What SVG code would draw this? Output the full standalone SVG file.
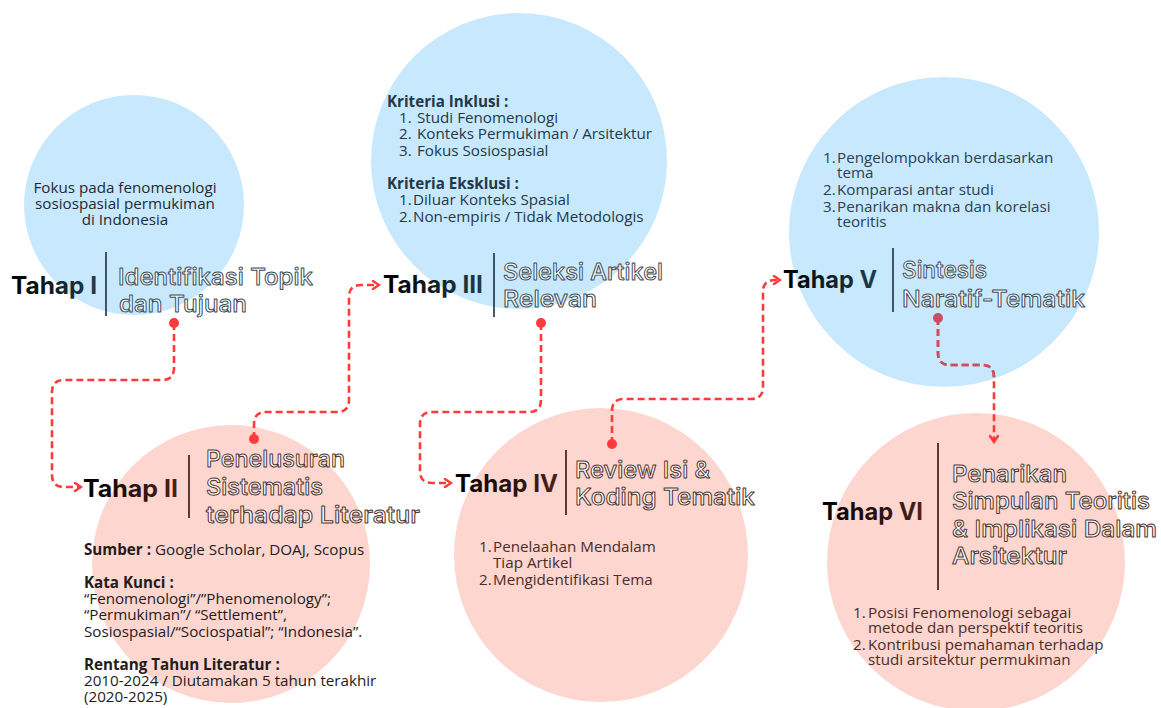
<svg xmlns="http://www.w3.org/2000/svg" width="1161" height="708" viewBox="0 0 1161 708">
<defs>
<style>
.blue{fill:#c8e9fd}
.pink{fill:#fdd6cf}
.lbl{font-family:Inter,"Liberation Sans",sans-serif;font-weight:700;font-size:24px}
.ttl{font-family:"Inter","Liberation Sans",sans-serif;font-weight:500;font-size:23px;fill:#fff;stroke-width:0.95px;stroke-linejoin:round}
.tb{stroke:#3d4c57}
.tp{stroke:#4d3530}
.body{font-family:"Open Sans","Noto Sans",sans-serif;font-size:15.2px}
.bold{font-weight:700}
.conn{fill:none;stroke:#ff3a3a;stroke-width:2.6;stroke-dasharray:7 4}
.dot{fill:#ff3a3a}
.sep{stroke-width:1.8}
</style>
<linearGradient id="gb" x1="0" y1="0" x2="1" y2="0"><stop offset="0" stop-color="#000"/><stop offset="1" stop-color="#1f3c4e"/></linearGradient>
<linearGradient id="gp" x1="0" y1="0" x2="1" y2="0"><stop offset="0" stop-color="#000"/><stop offset="1" stop-color="#4a2219"/></linearGradient>
<marker id="arr" viewBox="0 0 10 10" refX="8" refY="5" markerWidth="10" markerHeight="10" markerUnits="userSpaceOnUse" orient="auto"><path d="M2,1 L8,5 L2,9" fill="none" stroke="#ff3a3a" stroke-width="2.4" stroke-linecap="round"/></marker>
<clipPath id="c5"><circle cx="944" cy="232" r="155"/></clipPath>
</defs>
<rect width="1161" height="708" fill="#fff"/>

<g id="circles">
<circle class="blue" cx="134" cy="205" r="110"/>
<circle class="blue" cx="519" cy="161" r="148"/>
<circle class="blue" cx="944" cy="232" r="155"/>
<circle class="pink" cx="231" cy="564" r="139"/>
<circle class="pink" cx="601" cy="555" r="147"/>
<circle class="pink" cx="976" cy="562" r="149"/>
</g>

<g id="connectors">
<path class="conn" d="M174,323 V368 Q174,380 162,380 H64 Q52,380 52,392 V475 Q52,487 64,487 H81" marker-end="url(#arr)"/>
<circle class="dot" cx="174" cy="323" r="5"/>
<path class="conn" d="M254,439 V424 Q254,412 266,412 H337 Q349,412 349,400 V297 Q349,285 361,285 H379" marker-end="url(#arr)"/>
<circle class="dot" cx="254" cy="439" r="5"/>
<path class="conn" d="M541,323 V400 Q541,412 529,412 H432 Q420,412 420,424 V471 Q420,483 432,483 H451" marker-end="url(#arr)"/>
<circle class="dot" cx="541" cy="323" r="5"/>
<path class="conn" d="M612,444 V411 Q612,399 624,399 H751 Q763,399 763,387 V292 Q763,280 775,280 H780" marker-end="url(#arr)"/>
<circle class="dot" cx="612" cy="444" r="5"/>
<path class="conn" d="M938,318 V353 Q938,365 950,365 H982 Q994,365 994,377 V442" marker-end="url(#arr)"/>
<g clip-path="url(#c5)">
<path class="conn" style="stroke:#cc4e62" d="M938,318 V353 Q938,365 950,365 H982 Q994,365 994,377 V442"/>
</g>
<circle class="dot" style="fill:#cc4e62" cx="938" cy="318" r="5"/>
</g>

<g id="tahap1">
<text class="body" fill="#1e2a33" text-anchor="middle"><tspan x="125" y="193">Fokus pada fenomenologi</tspan><tspan x="125" y="209">sosiospasial permukiman</tspan><tspan x="125" y="225">di Indonesia</tspan></text>
<text class="lbl" x="11" y="294" fill="url(#gb)" textLength="86" lengthAdjust="spacingAndGlyphs">Tahap I</text>
<line class="sep" x1="106" y1="252" x2="106" y2="316" stroke="#2e4756"/>
<text class="ttl tb"><tspan x="118" y="285" textLength="195" lengthAdjust="spacingAndGlyphs">Identifikasi Topik</tspan><tspan x="119" y="312" textLength="128" lengthAdjust="spacingAndGlyphs">dan Tujuan</tspan></text>
</g>

<g id="tahap2">
<text class="lbl" x="83" y="497" fill="url(#gp)" textLength="95" lengthAdjust="spacingAndGlyphs">Tahap II</text>
<line class="sep" x1="189" y1="455" x2="189" y2="518" stroke="#4a2a22"/>
<text class="ttl tp"><tspan x="206" y="467" textLength="139" lengthAdjust="spacingAndGlyphs">Penelusuran</tspan><tspan x="206" y="495" textLength="117" lengthAdjust="spacingAndGlyphs">Sistematis</tspan><tspan x="206" y="523" textLength="214" lengthAdjust="spacingAndGlyphs">terhadap Literatur</tspan></text>
<text class="body" fill="#231c1a"><tspan x="84" y="555" class="bold">Sumber :</tspan><tspan> Google Scholar, DOAJ, Scopus</tspan><tspan x="84" y="588" class="bold">Kata Kunci :</tspan><tspan x="84" y="604">“Fenomenologi”/”Phenomenology”;</tspan><tspan x="84" y="620">“Permukiman”/ “Settlement”,</tspan><tspan x="84" y="637">Sosiospasial/“Sociospatial”; “Indonesia”.</tspan><tspan x="84" y="670" class="bold">Rentang Tahun Literatur :</tspan><tspan x="84" y="686">2010-2024 / Diutamakan 5 tahun terakhir</tspan><tspan x="84" y="702">(2020-2025)</tspan></text>
</g>

<g id="tahap3">
<text class="body" fill="#22384a"><tspan x="387" y="107" class="bold">Kriteria Inklusi :</tspan><tspan x="399" y="123">1.</tspan><tspan x="417">Studi Fenomenologi</tspan><tspan x="399" y="139">2.</tspan><tspan x="417">Konteks Permukiman / Arsitektur</tspan><tspan x="399" y="156">3.</tspan><tspan x="417">Fokus Sosiospasial</tspan><tspan x="387" y="189" class="bold">Kriteria Eksklusi :</tspan><tspan x="399" y="205">1.</tspan><tspan x="413">Diluar Konteks Spasial</tspan><tspan x="399" y="222">2.</tspan><tspan x="413">Non-empiris / Tidak Metodologis</tspan></text>
<text class="lbl" x="383" y="293" fill="url(#gb)" textLength="100" lengthAdjust="spacingAndGlyphs">Tahap III</text>
<line class="sep" x1="494" y1="253" x2="494" y2="317" stroke="#2e4756"/>
<text class="ttl tb"><tspan x="503" y="280" textLength="160" lengthAdjust="spacingAndGlyphs">Seleksi Artikel</tspan><tspan x="503" y="307" textLength="94" lengthAdjust="spacingAndGlyphs">Relevan</tspan></text>
</g>

<g id="tahap4">
<text class="lbl" x="455" y="492" fill="url(#gp)" textLength="103" lengthAdjust="spacingAndGlyphs">Tahap IV</text>
<line class="sep" x1="566" y1="450" x2="566" y2="515" stroke="#4a2a22"/>
<text class="ttl tp"><tspan x="575" y="478" textLength="135" lengthAdjust="spacingAndGlyphs">Review Isi &amp;</tspan><tspan x="575" y="505" textLength="180" lengthAdjust="spacingAndGlyphs">Koding Tematik</tspan></text>
<text class="body" fill="#4a2d28"><tspan x="479" y="552">1.</tspan><tspan x="493">Penelaahan Mendalam</tspan><tspan x="493" y="568">Tiap Artikel</tspan><tspan x="479" y="585">2.</tspan><tspan x="493">Mengidentifikasi Tema</tspan></text>
</g>

<g id="tahap5">
<text class="body" fill="#2c4050"><tspan x="823" y="163">1.</tspan><tspan x="837">Pengelompokkan berdasarkan</tspan><tspan x="837" y="178">tema</tspan><tspan x="823" y="195">2.</tspan><tspan x="837">Komparasi antar studi</tspan><tspan x="823" y="212">3.</tspan><tspan x="837">Penarikan makna dan korelasi</tspan><tspan x="837" y="227">teoritis</tspan></text>
<text class="lbl" x="783" y="288" fill="url(#gb)" textLength="94" lengthAdjust="spacingAndGlyphs">Tahap V</text>
<line class="sep" x1="893" y1="248" x2="893" y2="312" stroke="#2e4756"/>
<text class="ttl tb"><tspan x="902" y="278" textLength="85" lengthAdjust="spacingAndGlyphs">Sintesis</tspan><tspan x="902" y="307" textLength="183" lengthAdjust="spacingAndGlyphs">Naratif-Tematik</tspan></text>
</g>

<g id="tahap6">
<text class="lbl" x="822" y="520" fill="url(#gp)" textLength="101" lengthAdjust="spacingAndGlyphs">Tahap VI</text>
<line class="sep" x1="938" y1="443" x2="938" y2="590" stroke="#4a2a22"/>
<text class="ttl tp"><tspan x="952" y="482" textLength="115" lengthAdjust="spacingAndGlyphs">Penarikan</tspan><tspan x="952" y="509" textLength="198" lengthAdjust="spacingAndGlyphs">Simpulan Teoritis</tspan><tspan x="952" y="537" textLength="205" lengthAdjust="spacingAndGlyphs">&amp; Implikasi Dalam</tspan><tspan x="952" y="564" textLength="115" lengthAdjust="spacingAndGlyphs">Arsitektur</tspan></text>
<text class="body" fill="#4a2d28"><tspan x="853" y="618">1.</tspan><tspan x="868">Posisi Fenomenologi sebagai</tspan><tspan x="868" y="633">metode dan perspektif teoritis</tspan><tspan x="853" y="650">2.</tspan><tspan x="868">Kontribusi pemahaman terhadap</tspan><tspan x="868" y="665">studi arsitektur permukiman</tspan></text>
</g>
</svg>
